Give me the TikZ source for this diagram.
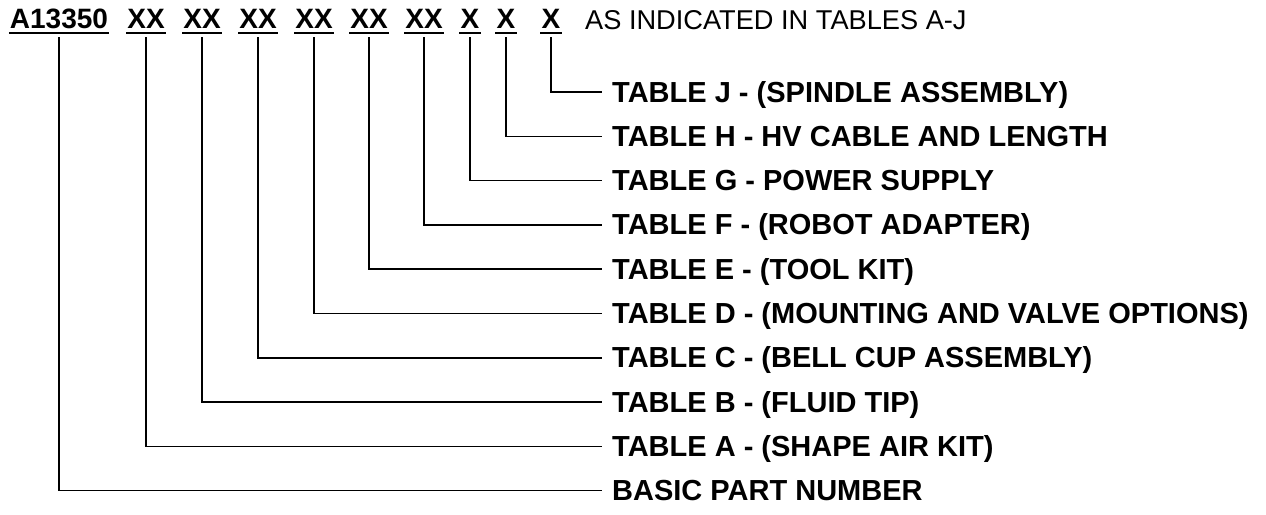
\documentclass[tikz,border=0pt]{standalone}
\usepackage{fontspec}
\setmainfont{Liberation Sans}
\begin{document}
\begin{tikzpicture}[x=1pt, y=-1pt,
    code/.style={font=\fontsize{28}{34}\selectfont\bfseries, anchor=south,
        inner xsep=1pt, inner ysep=4pt, text height=20pt, text depth=0pt},
    tablelabel/.style={font=\fontsize{29}{34}\selectfont\bfseries, anchor=west,
        inner sep=0pt, text height=20pt, text depth=0pt},
    underl/.style={line width=2pt},
    leader/.style={line width=1.5pt}]
    % Khung ảnh
    \useasboundingbox (0,0) rectangle (1266,514);

    % 1. Mã số phần trên cùng
    \node[code] (cBasic) at (59, 33) {A13350};
    \node[code] (cA) at (146, 33) {XX};
    \node[code] (cB) at (202, 33) {XX};
    \node[code] (cC) at (258, 33) {XX};
    \node[code] (cD) at (314, 33) {XX};
    \node[code] (cE) at (369, 33) {XX};
    \node[code] (cF) at (424, 33) {XX};
    \node[code] (cG) at (470, 33) {X};
    \node[code] (cH) at (506, 33) {X};
    \node[code] (cJ) at (551, 33) {X};
    \node[anchor=base west, inner sep=0pt, font=\fontsize{27.2}{34}\selectfont]
        (note) at (585, 29) {AS INDICATED IN TABLES A-J};

    % 2. Gạch chân các mã
    \foreach \c in {cBasic, cA, cB, cC, cD, cE, cF, cG, cH, cJ}
        \draw[underl] (\c.south west) -- (\c.south east);

    % 3. Tên các bảng
    \node[tablelabel] (lJ) at (612, 92) {TABLE J - (SPINDLE ASSEMBLY)};
    \node[tablelabel] (lH) at (612, 136.3) {TABLE H - HV CABLE AND LENGTH};
    \node[tablelabel] (lG) at (612, 180.6) {TABLE G - POWER SUPPLY};
    \node[tablelabel] (lF) at (612, 224.9) {TABLE F - (ROBOT ADAPTER)};
    \node[tablelabel] (lE) at (612, 269.2) {TABLE E - (TOOL KIT)};
    \node[tablelabel] (lD) at (612, 313.5) {TABLE D - (MOUNTING AND VALVE OPTIONS)};
    \node[tablelabel] (lC) at (612, 357.8) {TABLE C - (BELL CUP ASSEMBLY)};
    \node[tablelabel] (lB) at (612, 402.1) {TABLE B - (FLUID TIP)};
    \node[tablelabel] (lA) at (612, 446.4) {TABLE A - (SHAPE AIR KIT)};
    \node[tablelabel] (lBasic) at (612, 490.7) {BASIC PART NUMBER};

    % 4. Đường dẫn từ mã đến bảng
    \foreach \k in {Basic, A, B, C, D, E, F, G, H, J}
        \draw[leader] ([yshift=-4pt]c\k.south) |- ([xshift=-10pt]l\k.west);
\end{tikzpicture}
\end{document}
